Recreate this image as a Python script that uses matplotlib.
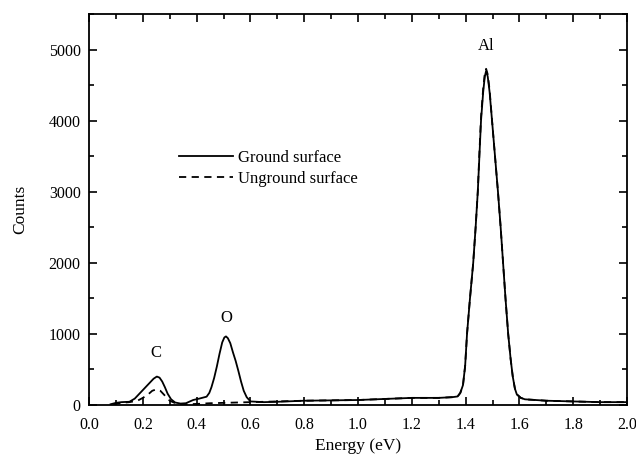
# EDS spectrum: ground vs unground surface

import numpy as np
import matplotlib.pyplot as plt
from matplotlib.ticker import MultipleLocator

plt.rcParams['font.family'] = ['Liberation Serif', 'DejaVu Serif']
plt.rc('font', size=11)

# Ground surface (solid line)
ground_x = [0.08, 0.10, 0.12, 0.15, 0.17, 0.19, 0.21, 0.225, 0.24, 0.252, 0.262, 0.272,
            0.282, 0.292, 0.305, 0.32, 0.34, 0.36, 0.387, 0.41, 0.437, 0.447, 0.455, 0.465,
            0.475, 0.485, 0.495, 0.503, 0.509, 0.516, 0.525, 0.535, 0.545, 0.555, 0.565,
            0.575, 0.586, 0.60, 0.65, 0.70, 0.80, 0.90, 1.00, 1.10, 1.20, 1.30, 1.35, 1.37,
            1.38, 1.39, 1.398, 1.405, 1.416, 1.428, 1.437, 1.445, 1.451, 1.457, 1.465, 1.471,
            1.476, 1.482, 1.489, 1.498, 1.509, 1.52, 1.53, 1.539, 1.548, 1.558, 1.567, 1.575,
            1.583, 1.59, 1.605, 1.62, 1.70, 1.80, 1.90, 2.00]
ground_y = [10, 30, 40, 45, 90, 170, 250, 310, 370, 400, 385, 330,
            250, 160, 80, 35, 20, 25, 70, 90, 117, 170, 250, 380,
            540, 720, 880, 950, 965, 940, 870, 740, 620, 480, 330,
            200, 110, 50, 40, 45, 60, 65, 70, 85, 100, 100, 110, 120,
            170, 280, 550, 1000, 1500, 2000, 2500, 3000, 3500, 4000, 4400, 4620,
            4700, 4620, 4400, 4000, 3500, 3000, 2500, 2000, 1500, 1000, 650, 400,
            230, 150, 100, 80, 60, 50, 40, 40]

# Unground surface (dashed line)
unground_x = [0.09, 0.12, 0.15, 0.18, 0.20, 0.22, 0.235, 0.25, 0.265, 0.28, 0.30, 0.33,
              0.36, 0.40, 0.45, 0.50, 0.55, 0.60, 0.70, 0.80, 0.90, 1.00, 1.10, 1.20,
              1.30, 1.35, 1.37, 1.38, 1.39, 1.398, 1.405, 1.416, 1.428, 1.437, 1.445,
              1.451, 1.457, 1.465, 1.471, 1.476, 1.482, 1.489, 1.498, 1.509, 1.52, 1.53,
              1.539, 1.548, 1.558, 1.567, 1.575, 1.583, 1.59, 1.605, 1.62, 1.70, 1.80,
              1.90, 2.00]
unground_y = [10, 30, 40, 60, 100, 150, 200, 220, 200, 140, 60, 10,
              10, 15, 25, 30, 35, 40, 50, 60, 65, 70, 85, 100,
              100, 110, 120, 170, 280, 550, 1000, 1500, 2000, 2500, 3000,
              3550, 4050, 4450, 4660, 4730, 4650, 4430, 4000, 3500, 3000, 2500,
              2000, 1500, 1000, 650, 400, 230, 150, 100, 80, 60, 50,
              40, 40]

peak_labels = ['C', 'O', 'Al']
peak_x = [0.25, 0.51, 1.475]
peak_y = [730, 1220, 5050]

fig = plt.figure(figsize=(6.36, 4.61), dpi=100)
ax = fig.add_axes([0.14, 0.1215, 0.846, 0.848])

ax.plot(ground_x, ground_y, color='black', linestyle='-', linewidth=1.3, label='Ground surface')
ax.plot(unground_x, unground_y, color='black', linestyle='--', linewidth=1.3,
        dashes=(4, 3), label='Unground surface')

for lab, px, py in zip(peak_labels, peak_x, peak_y):
    ax.text(px, py, lab, ha='center', va='center', fontsize=12)

ax.set_xlim(0.0, 2.0)
ax.set_ylim(0, 5500)
ax.xaxis.set_major_locator(MultipleLocator(0.2))
ax.xaxis.set_minor_locator(MultipleLocator(0.1))
ax.yaxis.set_major_locator(MultipleLocator(1000))
ax.yaxis.set_minor_locator(MultipleLocator(500))
ax.set_xticks(np.arange(0, 2.01, 0.2))
ax.set_xticklabels([f'{v:.1f}' for v in np.arange(0, 2.01, 0.2)])
ax.tick_params(which='both', direction='in', top=True, right=True, width=1.2)
ax.tick_params(which='major', length=6)
ax.tick_params(which='minor', length=3.5)
ax.tick_params(axis='x', which='major', pad=9, labelsize=11.5)
ax.tick_params(axis='y', which='major', pad=6, labelsize=11.5)
for s in ax.spines.values():
    s.set_linewidth(1.3)

ax.set_xlabel('Energy (eV)', fontsize=12.5, labelpad=3)
ax.set_ylabel('Counts', fontsize=12.5, labelpad=15)

ax.legend(loc='upper left', bbox_to_anchor=(0.14, 0.69), frameon=False, fontsize=12,
          handlelength=3.2, handletextpad=0.3, labelspacing=0.3)

fig.savefig('out.png', dpi=100)
